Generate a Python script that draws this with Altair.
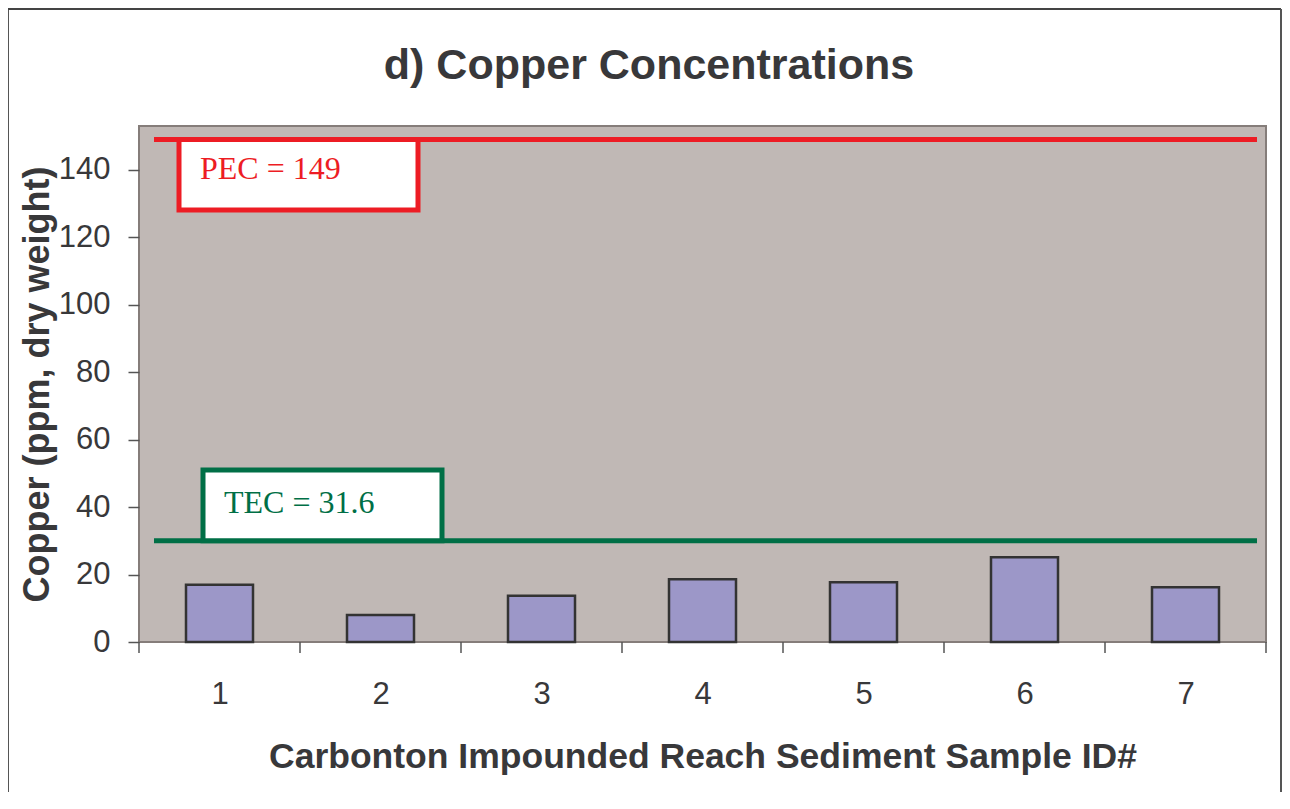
import altair as alt
import pandas as pd

# ---- data ----
samples = [1, 2, 3, 4, 5, 6, 7]
copper = [17.0, 8.0, 13.7, 18.6, 17.7, 25.1, 16.2]
y_ticks = [0, 20, 40, 60, 80, 100, 120, 140]
boundaries = [0.5, 1.5, 2.5, 3.5, 4.5, 5.5, 6.5, 7.5]
thr_names = ["PEC", "TEC"]
thr_values = [149, 30]
thr_labels = ["PEC = 149", "TEC = 31.6"]
thr_colors = ["#ed1c24", "#006f46"]

df = pd.DataFrame({"sample": samples, "copper": copper})
thr = pd.DataFrame({"name": thr_names, "value": thr_values, "label": thr_labels})
bnd = pd.DataFrame({"b": boundaries})
one = pd.DataFrame({"a": [0]})

W, H = 1127, 516
FONT = "Liberation Sans"
SERIF = "Liberation Serif"
TXT = "#38383a"

xscale = alt.Scale(domain=[0.5, 7.5], nice=False, zero=False, padding=0)
yscale = alt.Scale(domain=[0, 153], nice=False, padding=0)

bars = alt.Chart(df).mark_bar(size=67, color="#9c97c8", stroke="#333333", strokeWidth=2.5).encode(
    x=alt.X("sample:Q", scale=xscale, axis=alt.Axis(
        values=samples, format="d", ticks=False, tickSize=0, domain=False, grid=False,
        labelFontSize=31, labelFont=FONT, labelColor=TXT, labelPadding=37,
        title="Carbonton Impounded Reach Sediment Sample ID#", titleFont=FONT,
        titleFontSize=35.5, titleFontWeight="bold", titleColor=TXT, titlePadding=30)),
    y=alt.Y("copper:Q", scale=yscale, axis=alt.Axis(
        values=y_ticks, tickSize=11, tickColor="#555555", tickWidth=1.5, domain=False, grid=False,
        labelFontSize=31, labelFont=FONT, labelColor=TXT, labelPadding=18,
        title="Copper (ppm, dry weight)", titleFont=FONT, titleFontSize=36,
        titleFontWeight="bold", titleColor=TXT, titlePadding=2)),
)

color_scale = alt.Scale(domain=thr_names, range=thr_colors)

lines = alt.Chart(thr).mark_rule(strokeWidth=5).encode(
    y=alt.Y("value:Q", scale=yscale),
    x=alt.value(15), x2=alt.value(1118),
    color=alt.Color("name:N", scale=color_scale, legend=None),
)

pec = thr[thr["name"] == "PEC"]
tec = thr[thr["name"] == "TEC"]

pec_box = alt.Chart(pec).mark_rect(fill="white", stroke=thr_colors[0], strokeWidth=5).encode(
    y=alt.Y("value:Q", scale=yscale), y2=alt.value(84), x=alt.value(40), x2=alt.value(279))
tec_box = alt.Chart(tec).mark_rect(fill="white", stroke=thr_colors[1], strokeWidth=5).encode(
    y=alt.Y("value:Q", scale=yscale), y2=alt.value(344), x=alt.value(64), x2=alt.value(303))

pec_txt = alt.Chart(pec).mark_text(font=SERIF, fontSize=32, align="left", baseline="middle",
                                   color=thr_colors[0]).encode(
    text="label:N", x=alt.value(61), y=alt.value(43))
tec_txt = alt.Chart(tec).mark_text(font=SERIF, fontSize=32, align="left", baseline="middle",
                                   color=thr_colors[1]).encode(
    text="label:N", x=alt.value(85), y=alt.value(377))

xticks = alt.Chart(bnd).mark_rule(color="#555555", strokeWidth=1.5).encode(
    x=alt.X("b:Q", scale=xscale), y=alt.value(H), y2=alt.value(H + 11))

title = alt.Chart(one).mark_text(font=FONT, fontSize=43, fontWeight="bold", color=TXT,
                                 align="center", baseline="middle").encode(
    text=alt.value("d) Copper Concentrations"), x=alt.value(649 - 139), y=alt.value(66 - 126))

border_left = alt.Chart(one).mark_rule(color="#555555", strokeWidth=2).encode(
    x=alt.value(-131), y=alt.value(-117), y2=alt.value(H + 170))
border_top = alt.Chart(one).mark_rule(color="#444444", strokeWidth=2).encode(
    x=alt.value(-131), x2=alt.value(1142), y=alt.value(-117))
border_right = alt.Chart(one).mark_rule(color="#555555", strokeWidth=2).encode(
    x=alt.value(1142), y=alt.value(-117), y2=alt.value(H + 170))

chart = alt.layer(
    bars, lines, pec_box, tec_box, pec_txt, tec_txt, xticks, title,
    border_left, border_top, border_right
).properties(
    width=W, height=H,
    autosize=alt.AutoSizeParams(type="none"),
    padding={"left": 131, "top": 118, "right": 16, "bottom": 150},
    background="white",
).configure_view(
    fill="#c0b8b5", stroke="#857d7a", strokeWidth=2
)

chart.save("out.html", embed_options={"renderer": "svg", "actions": False})
